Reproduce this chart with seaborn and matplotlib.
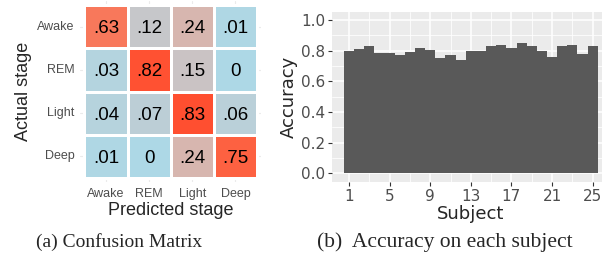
import numpy as np
import pandas as pd
import seaborn as sns
import matplotlib.pyplot as plt
from matplotlib.colors import ListedColormap, to_rgb

# confusion matrix (rows = actual, cols = predicted)
stages = ["Awake", "REM", "Light", "Deep"]
awake_row = [0.63, 0.12, 0.24, 0.01]
rem_row = [0.03, 0.82, 0.15, 0.00]
light_row = [0.04, 0.07, 0.83, 0.06]
deep_row = [0.01, 0.00, 0.24, 0.75]

# accuracy per subject
subjects = list(range(1, 26))
accuracy = [0.800, 0.813, 0.830, 0.787, 0.787, 0.772, 0.793, 0.817, 0.804, 0.752,
            0.772, 0.739, 0.798, 0.795, 0.830, 0.837, 0.819, 0.850, 0.830, 0.800,
            0.759, 0.830, 0.837, 0.778, 0.830]


def srgb_to_lab(c):
    c = np.asarray(c, dtype=float)
    lin = np.where(c <= 0.04045, c / 12.92, ((c + 0.055) / 1.055) ** 2.4)
    m = np.array([[0.4124, 0.3576, 0.1805],
                  [0.2126, 0.7152, 0.0722],
                  [0.0193, 0.1192, 0.9505]])
    xyz = m @ lin / np.array([0.95047, 1.0, 1.08883])
    f = np.where(xyz > 0.008856, np.cbrt(xyz), 7.787 * xyz + 16 / 116)
    return np.array([116 * f[1] - 16, 500 * (f[0] - f[1]), 200 * (f[1] - f[2])])


def lab_to_srgb(lab):
    L, a, b = lab
    fy = (L + 16) / 116
    fx = fy + a / 500
    fz = fy - b / 200
    f = np.array([fx, fy, fz])
    xyz = np.where(f ** 3 > 0.008856, f ** 3, (f - 16 / 116) / 7.787)
    xyz = xyz * np.array([0.95047, 1.0, 1.08883])
    m = np.array([[3.2406, -1.5372, -0.4986],
                  [-0.9689, 1.8758, 0.0415],
                  [0.0557, -0.2040, 1.0570]])
    lin = m @ xyz
    c = np.where(lin <= 0.0031308, 12.92 * lin, 1.055 * np.clip(lin, 0, None) ** (1 / 2.4) - 0.055)
    return np.clip(c, 0, 1)


# ggplot-like gradient (lab space) lightblue -> red-orange
lo = srgb_to_lab(to_rgb("lightblue"))
hi = srgb_to_lab(to_rgb("#FF4F30"))
cmap = ListedColormap([lab_to_srgb(lo + t * (hi - lo)) for t in np.linspace(0, 1, 256)])

conf = pd.DataFrame([awake_row, rem_row, light_row, deep_row], index=stages, columns=stages)


def fmt_val(v):
    return "0" if v == 0 else f"{v:.2f}".lstrip("0")


annot = conf.map(fmt_val).values

sns.set_style("white")
plt.rcParams["font.family"] = ["Liberation Sans", "DejaVu Sans"]

fig = plt.figure(figsize=(6.02, 2.6), dpi=100)

# ---- (a) confusion matrix
ax1 = fig.add_axes([0.133, 0.30, 0.301, 0.696])
ax1.set_axisbelow(True)
ax1.grid(True, color="#EBEBEB", linewidth=0.8)
sns.heatmap(conf, cmap=cmap, vmin=0, vmax=conf.values.max(), annot=annot, fmt="",
            linewidths=0.8, linecolor="white", cbar=False, ax=ax1,
            annot_kws={"size": 13.5, "color": "black", "va": "center_baseline"})
ax1.set_xlim(-0.1, 4.1)
ax1.set_ylim(4.1, -0.1)
ax1.tick_params(length=0, labelsize=9, labelcolor="#4D4D4D", pad=4)
plt.setp(ax1.get_yticklabels(), rotation=0)
ax1.set_xlabel("Predicted stage", fontsize=13, labelpad=2)
ax1.set_ylabel("Actual stage", fontsize=13, labelpad=4)

# ---- (b) accuracy per subject
with sns.axes_style("darkgrid", {"axes.facecolor": "#EBEBEB", "grid.color": "white"}):
    ax2 = fig.add_axes([0.5515, 0.301, 0.46, 0.654])
sns.barplot(x=subjects, y=accuracy, native_scale=True, width=1, color="#595959",
            saturation=1, linewidth=0, errorbar=None, ax=ax2)
ax2.set_xlim(-0.67, 26.6)
ax2.set_ylim(-0.055, 1.054)
ax2.set_xticks(subjects[::4])
ax2.set_xticks(subjects[2::4], minor=True)
ax2.set_yticks(np.arange(0, 1.01, 0.2))
ax2.set_yticks(np.arange(0.1, 1.0, 0.2), minor=True)
ax2.set_yticklabels([f"{v:.1f}" for v in np.arange(0, 1.01, 0.2)])
ax2.set_axisbelow(True)
ax2.grid(True, which="major", color="white", linewidth=1.1)
ax2.grid(True, which="minor", color="white", linewidth=0.55)
ax2.tick_params(which="major", length=3, width=0.8, color="#333333", labelsize=11,
                labelcolor="#4D4D4D", pad=2, bottom=True, left=True)
ax2.tick_params(which="minor", length=0)
for s in ax2.spines.values():
    s.set_visible(False)
ax2.set_xlabel("Subject", fontsize=13, labelpad=1)
ax2.set_ylabel("Accuracy", fontsize=13, labelpad=2)

# captions
fig.text(0.198, 0.07, "(a) Confusion Matrix", family=["Liberation Serif"], fontsize=14,
         ha="center", va="center")
fig.text(0.739, 0.07, "(b)  Accuracy on each subject", family=["Liberation Serif"], fontsize=15.5,
         ha="center", va="center")

fig.savefig("out.png", dpi=100)
